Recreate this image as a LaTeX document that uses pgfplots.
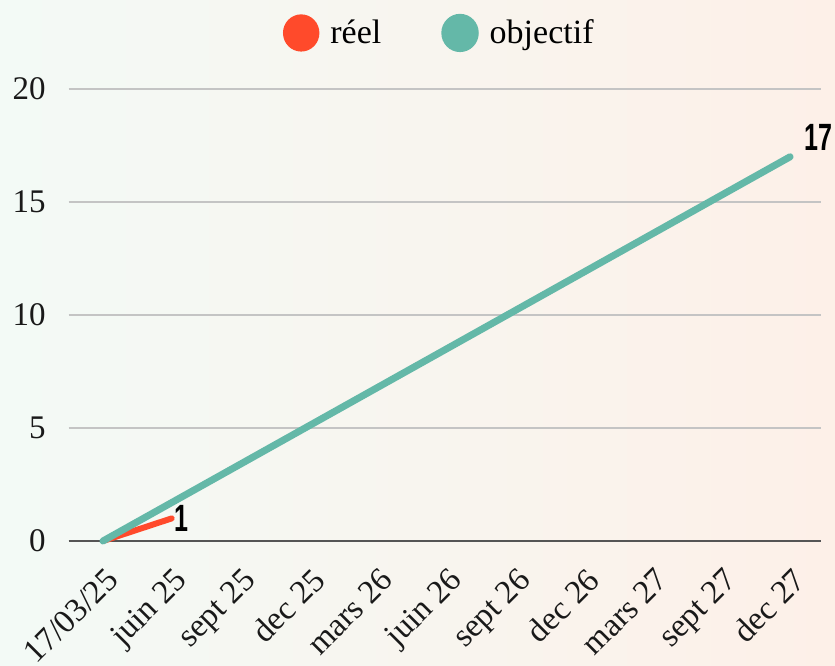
\documentclass[border=0pt]{standalone}
\usepackage{fontspec}
\setmainfont{Liberation Serif}
\newfontfamily\numfont{Liberation Sans}[FakeStretch=0.66]
\usepackage{pgfplots}
\pgfplotsset{compat=1.18}
\definecolor{reel}{HTML}{FF4A2B}
\definecolor{obj}{HTML}{64B8A8}
\definecolor{gridc}{HTML}{C4C4C4}
\definecolor{axc}{HTML}{555555}
\definecolor{bgl}{HTML}{F3FAF6}
\definecolor{bgr}{HTML}{FDF0E8}
\begin{document}
\begin{tikzpicture}
\path[use as bounding box, left color=bgl, right color=bgr] (0,0) rectangle (417.5pt,332.5pt);
\begin{axis}[
  at={(34.3pt,62pt)}, anchor=south west,
  scale only axis, width=376.2pt, height=226pt,
  xmin=-0.5, xmax=10.45, ymin=0, ymax=20,
  clip=false,
  axis x line*=bottom, axis y line*=left,
  x axis line style={color=axc, line width=0.6pt, -},
  y axis line style={draw=none},
  major tick length=0pt,
  ytick={0,5,10,15,20},
  ymajorgrids, grid style={color=gridc, line width=0.6pt},
  xtick={0,...,10},
  xticklabels={17/03/25, juin 25, sept 25, dec 25, mars 26, juin 26, sept 26, dec 26, mars 27, sept 27, dec 27},
  /pgf/number format/assume math mode=true,
  tick label style={font=\fontsize{16.5}{19}\selectfont, color=black!90},
  xticklabel style={xshift=0.7pt, yshift=-11pt, rotate=45, anchor=north east, inner sep=1pt},
  yticklabel style={anchor=east, xshift=-8pt},
  legend columns=2,
  legend style={at={(0.494,1.124)}, anchor=center, draw=none, fill=none,
    font=\fontsize{17}{19}\selectfont,
    /tikz/every even column/.append style={column sep=28pt}},
  legend cell align=left,
]
\addplot[color=reel, line width=3pt, line cap=round,
  legend image code/.code={\fill[reel] (0,0) ellipse (7.6pt and 7.8pt); \path (11.1pt,0);}]
  coordinates {(0,0) (1,1)};
\addlegendentry{réel}
\addplot[color=obj, line width=3.5pt, line cap=round,
  legend image code/.code={\fill[obj] (0,0) ellipse (7.6pt and 7.8pt); \path (11.1pt,0);}]
  coordinates {(0,0) (10,17)};
\addlegendentry{objectif}
\addplot[draw=none, forget plot, nodes near coords, point meta=explicit symbolic,
  nodes near coords style={anchor=west, inner sep=1pt, font=\numfont\bfseries\fontsize{19}{20}\selectfont, color=black}]
  coordinates {(1,1) [1]};
\addplot[draw=none, forget plot, nodes near coords, point meta=explicit symbolic,
  nodes near coords style={anchor=south west, inner sep=1pt, xshift=6pt, yshift=2pt, font=\numfont\bfseries\fontsize{19}{20}\selectfont, color=black}]
  coordinates {(10,17) [17]};
\end{axis}
\end{tikzpicture}
\end{document}
